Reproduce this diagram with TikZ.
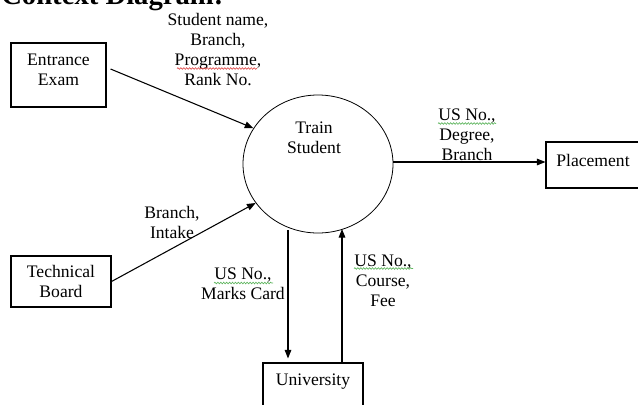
\documentclass[tikz,border=0pt]{standalone}
\usepackage{fontspec}
\setmainfont{Liberation Serif}
\usetikzlibrary{arrows.meta,shapes.geometric,calc,decorations.pathmorphing}
\definecolor{spellred}{HTML}{E05050}
\definecolor{spellgreen}{HTML}{5FB55F}
\begin{document}
\begin{tikzpicture}[x=0.75pt,y=-0.75pt,
  lbl/.style={align=center,font=\fontsize{13.2}{15}\selectfont,inner sep=0pt},
  boxx/.style={draw,line width=0.8pt,inner sep=0pt},
  flow/.style={line width=0.8pt,-{Triangle[length=6.5pt,width=5pt]}},
  squig/.style={line width=0.5pt,decorate,decoration={snake,segment length=2.2pt,amplitude=0.6pt}}]
\useasboundingbox (0,0) rectangle (638,404);
\clip (0,0) rectangle (638,404);
% title (cut off at top)
\node[anchor=base west,inner sep=0pt,font=\fontsize{21.5}{24}\selectfont\bfseries] (title) at (1,4) {Context Diagram:};
% boxes
\node[boxx,minimum width=95*0.75pt,minimum height=64*0.75pt] (ee) at (58.5,75) {};
\node[lbl] (eet) at (58.5,70) {Entrance\\Exam};
\node[boxx,minimum width=100*0.75pt,minimum height=51*0.75pt] (tb) at (61,281.5) {};
\node[lbl] (tbt) at (61,281) {Technical\\Board};
\node[boxx,minimum width=98*0.75pt,minimum height=46*0.75pt] (pl) at (595,165) {};
\node[lbl] (plt) at (593,160) {Placement};
\node[boxx,minimum width=100*0.75pt,minimum height=46*0.75pt] (un) at (313,386) {};
\node[lbl] (unt) at (313,382) {University};
% process
\node[draw,ellipse,line width=0.6pt,inner sep=0pt,minimum width=150*0.75pt,minimum height=138*0.75pt] (tr) at (318,164) {};
\node[lbl] (trt) at (314,138) {Train\\Student};
% flows
\draw[flow] ($(ee.east)+(4,-6)$) -- (tr.151);
\draw[flow] (tb.east) -- (tr.212);
\draw[flow] (tr.east |- 0,162) -- (pl.west |- 0,162);
\coordinate (dn) at (288,230);
\coordinate (upe) at (342,229);
\draw[flow,shorten >=3pt] (dn) -- (dn |- un.north);
\draw[flow] (upe |- un.north) -- (upe);
% labels
\node[lbl] (l1) at (218,50) {Student name,\\Branch,\\Programme,\\Rank No.};
\node[lbl] (l2) at (467,135) {US No.,\\Degree,\\Branch};
\node[lbl] (l3) at (172,222) {Branch,\\Intake};
\node[lbl] (l4) at (243,284) {US No.,\\Marks Card};
\node[lbl] (l5) at (383,281) {US No.,\\Course,\\Fee};
% spell-check underlines
\draw[squig,spellred] (177,68.5) -- (257,68.5);
\draw[squig,spellgreen] (438,123.5) -- (496,123.5);
\draw[squig,spellgreen] (214,283) -- (273,283);
\draw[squig,spellgreen] (354,268.5) -- (413,268.5);
\end{tikzpicture}
\end{document}
